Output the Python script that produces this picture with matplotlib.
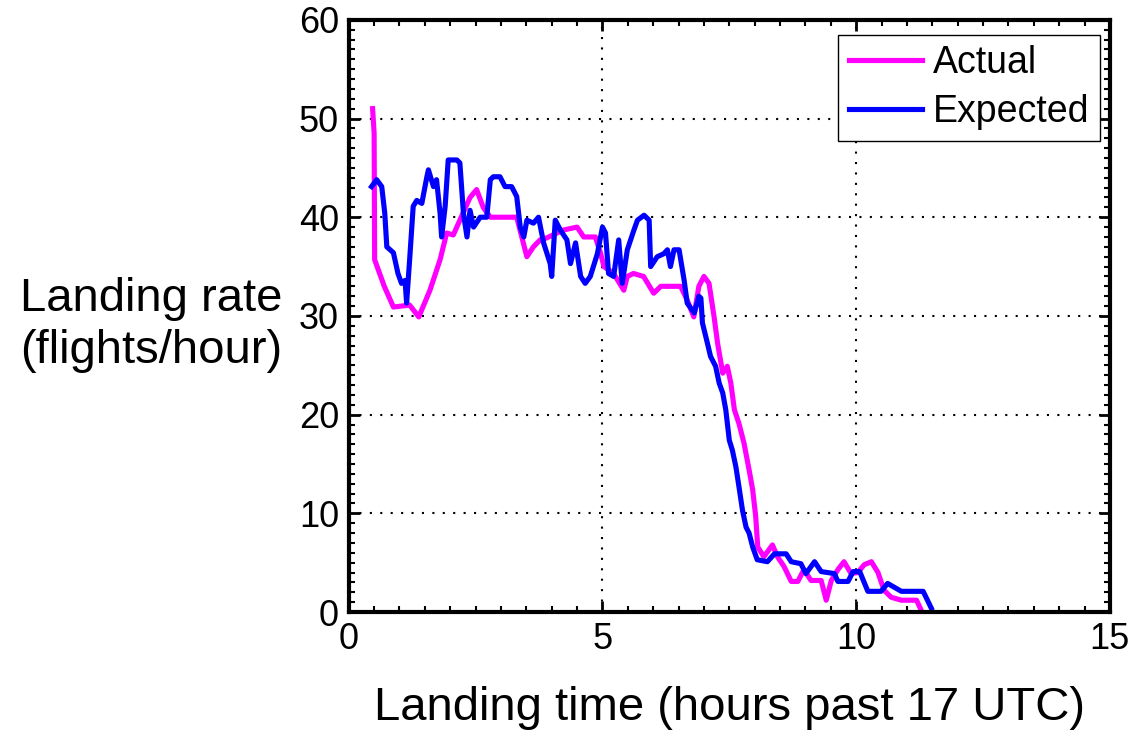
import matplotlib
matplotlib.use("Agg")
import matplotlib.pyplot as plt
from matplotlib.ticker import MultipleLocator

plt.rcParams['font.family'] = ['Liberation Sans', 'DejaVu Sans']

# Actual landing rate (hours past 17 UTC, flights/hour)
actual_t = [0.47, 0.5, 0.51, 0.7, 0.88, 1.04, 1.2, 1.38, 1.6, 1.8, 1.93, 2.06, 2.19,
            2.39, 2.52, 2.65, 2.79, 3.31, 3.51, 3.64, 3.77, 3.9, 4.23, 4.5, 4.63,
            4.86, 4.96, 5.03, 5.22, 5.42, 5.49, 5.61, 5.81, 6.01, 6.15, 6.54, 6.67,
            6.8, 6.9, 7.0, 7.1, 7.2, 7.27, 7.37, 7.46, 7.53, 7.6, 7.69, 7.79, 7.89,
            7.96, 8.02, 8.06, 8.18, 8.35, 8.45, 8.58, 8.72, 8.85, 8.97, 9.11, 9.31,
            9.41, 9.51, 9.64, 9.76, 9.9, 10.03, 10.16, 10.3, 10.43, 10.55, 10.69,
            10.89, 11.19, 11.28]
actual_rate = [51, 48.5, 35.7, 33, 30.9, 31, 31.1, 29.9, 32.6, 35.7, 38.4, 38.2, 39.7,
               42, 42.8, 41, 40, 40, 36, 37, 37.7, 37.9, 38.7, 39, 38, 38, 36.4, 35,
               34.3, 32.6, 34, 34.3, 34, 32.3, 33, 33, 31.6, 29.9, 33, 34, 33.3, 29.9,
               27.2, 24.2, 24.9, 23.2, 20.5, 19.1, 17.1, 14.4, 12.4, 9.7, 6.6, 5.6,
               6.8, 5.6, 4.6, 3.1, 3.1, 4.3, 3.2, 3.2, 1.2, 3.2, 4.3, 5.1, 3.9, 4.0,
               4.8, 5.1, 4.0, 2.2, 1.5, 1.2, 1.2, 0.2]

# Expected landing rate
expected_t = [0.45, 0.55, 0.65, 0.71, 0.75, 0.88, 0.97, 1.04, 1.11, 1.14, 1.2, 1.27,
              1.34, 1.44, 1.54, 1.57, 1.67, 1.73, 1.8, 1.83, 1.9, 1.96, 2.13, 2.19,
              2.26, 2.33, 2.39, 2.46, 2.59, 2.72, 2.79, 2.85, 2.98, 3.08, 3.21, 3.31,
              3.38, 3.45, 3.51, 3.64, 3.74, 3.84, 3.97, 4.0, 4.07, 4.17, 4.3, 4.37,
              4.47, 4.57, 4.66, 4.76, 4.9, 5.0, 5.06, 5.12, 5.22, 5.32, 5.39, 5.49,
              5.62, 5.69, 5.82, 5.92, 5.95, 6.08, 6.21, 6.28, 6.34, 6.41, 6.51, 6.61,
              6.67, 6.81, 6.9, 6.94, 6.97, 7.07, 7.13, 7.23, 7.3, 7.37, 7.43, 7.5,
              7.56, 7.63, 7.69, 7.76, 7.83, 7.89, 7.96, 8.05, 8.25, 8.39, 8.62, 8.72,
              8.91, 9.01, 9.18, 9.31, 9.57, 9.64, 9.84, 9.94, 10.07, 10.23, 10.49,
              10.62, 10.89, 11.32, 11.48]
expected_rate = [43.1, 43.8, 43.1, 40.4, 37, 36.4, 34.3, 33.3, 33.6, 31.3, 35.7, 41.1,
                 41.7, 41.4, 44.1, 44.8, 43.1, 43.8, 40.4, 38, 41.1, 45.8, 45.8, 45.5,
                 40.4, 38, 40.7, 39, 40, 40, 43.8, 44.1, 44.1, 43.1, 43.1, 42.1, 39,
                 38, 39.7, 39.4, 40, 37.4, 35.3, 34, 39.7, 38.7, 37.7, 35.3, 37.4, 34,
                 33.3, 34, 36.3, 39, 38.4, 34.3, 34, 37.7, 33.3, 36.7, 38.7, 39.7,
                 40.2, 39.7, 35, 36, 36.3, 36.7, 35, 36.7, 36.7, 33.6, 31.3, 30.3, 32,
                 31.8, 29.3, 27.2, 25.9, 24.9, 23.2, 22.2, 20.5, 17.4, 16.4, 14.7,
                 12.7, 10.3, 8.6, 8.0, 6.6, 5.3, 5.1, 5.9, 5.9, 5.1, 4.9, 3.9, 5.1,
                 4.1, 3.9, 3.1, 3.1, 4.1, 4.1, 2.1, 2.1, 2.9, 2.1, 2.1, 0.4]

fig = plt.figure(figsize=(11.36, 7.33), dpi=100)
ax = fig.add_axes([0.307, 0.165, 0.67, 0.808])

ax.plot(actual_t, actual_rate, color='#ff00ff', lw=3.7, label='Actual')
ax.plot(expected_t, expected_rate, color='#0000ff', lw=3.7, label='Expected')

ax.set_xlim(0, 15)
ax.set_ylim(0, 60)
ax.xaxis.set_major_locator(MultipleLocator(5))
ax.xaxis.set_minor_locator(MultipleLocator(0.5))
ax.yaxis.set_major_locator(MultipleLocator(10))
ax.yaxis.set_minor_locator(MultipleLocator(1))
ax.tick_params(which='both', direction='in', top=True, right=True, labelsize=26, pad=7)
ax.tick_params(which='major', length=8, width=2)
ax.tick_params(which='minor', length=4, width=1.5)
ax.grid(True, which='major', color='black', linestyle=(0, (1, 4)), linewidth=1.5)
for s in ax.spines.values():
    s.set_linewidth(3)

ax.set_xlabel('Landing time (hours past 17 UTC)', fontsize=34, labelpad=21)
ax.set_ylabel('Landing rate\n(flights/hour)', fontsize=34, rotation=0,
              ha='center', va='center', linespacing=1.25)
ax.yaxis.set_label_coords(-0.26, 0.485)

leg = ax.legend(loc='upper right', bbox_to_anchor=(0.987, 0.975), fontsize=27,
                fancybox=False, framealpha=1, edgecolor='black', borderaxespad=0,
                handlelength=1.95, handletextpad=0.3, labelspacing=0.35,
                borderpad=0.28)
leg.get_frame().set_linewidth(1)

fig.savefig('out.png', dpi=100)
